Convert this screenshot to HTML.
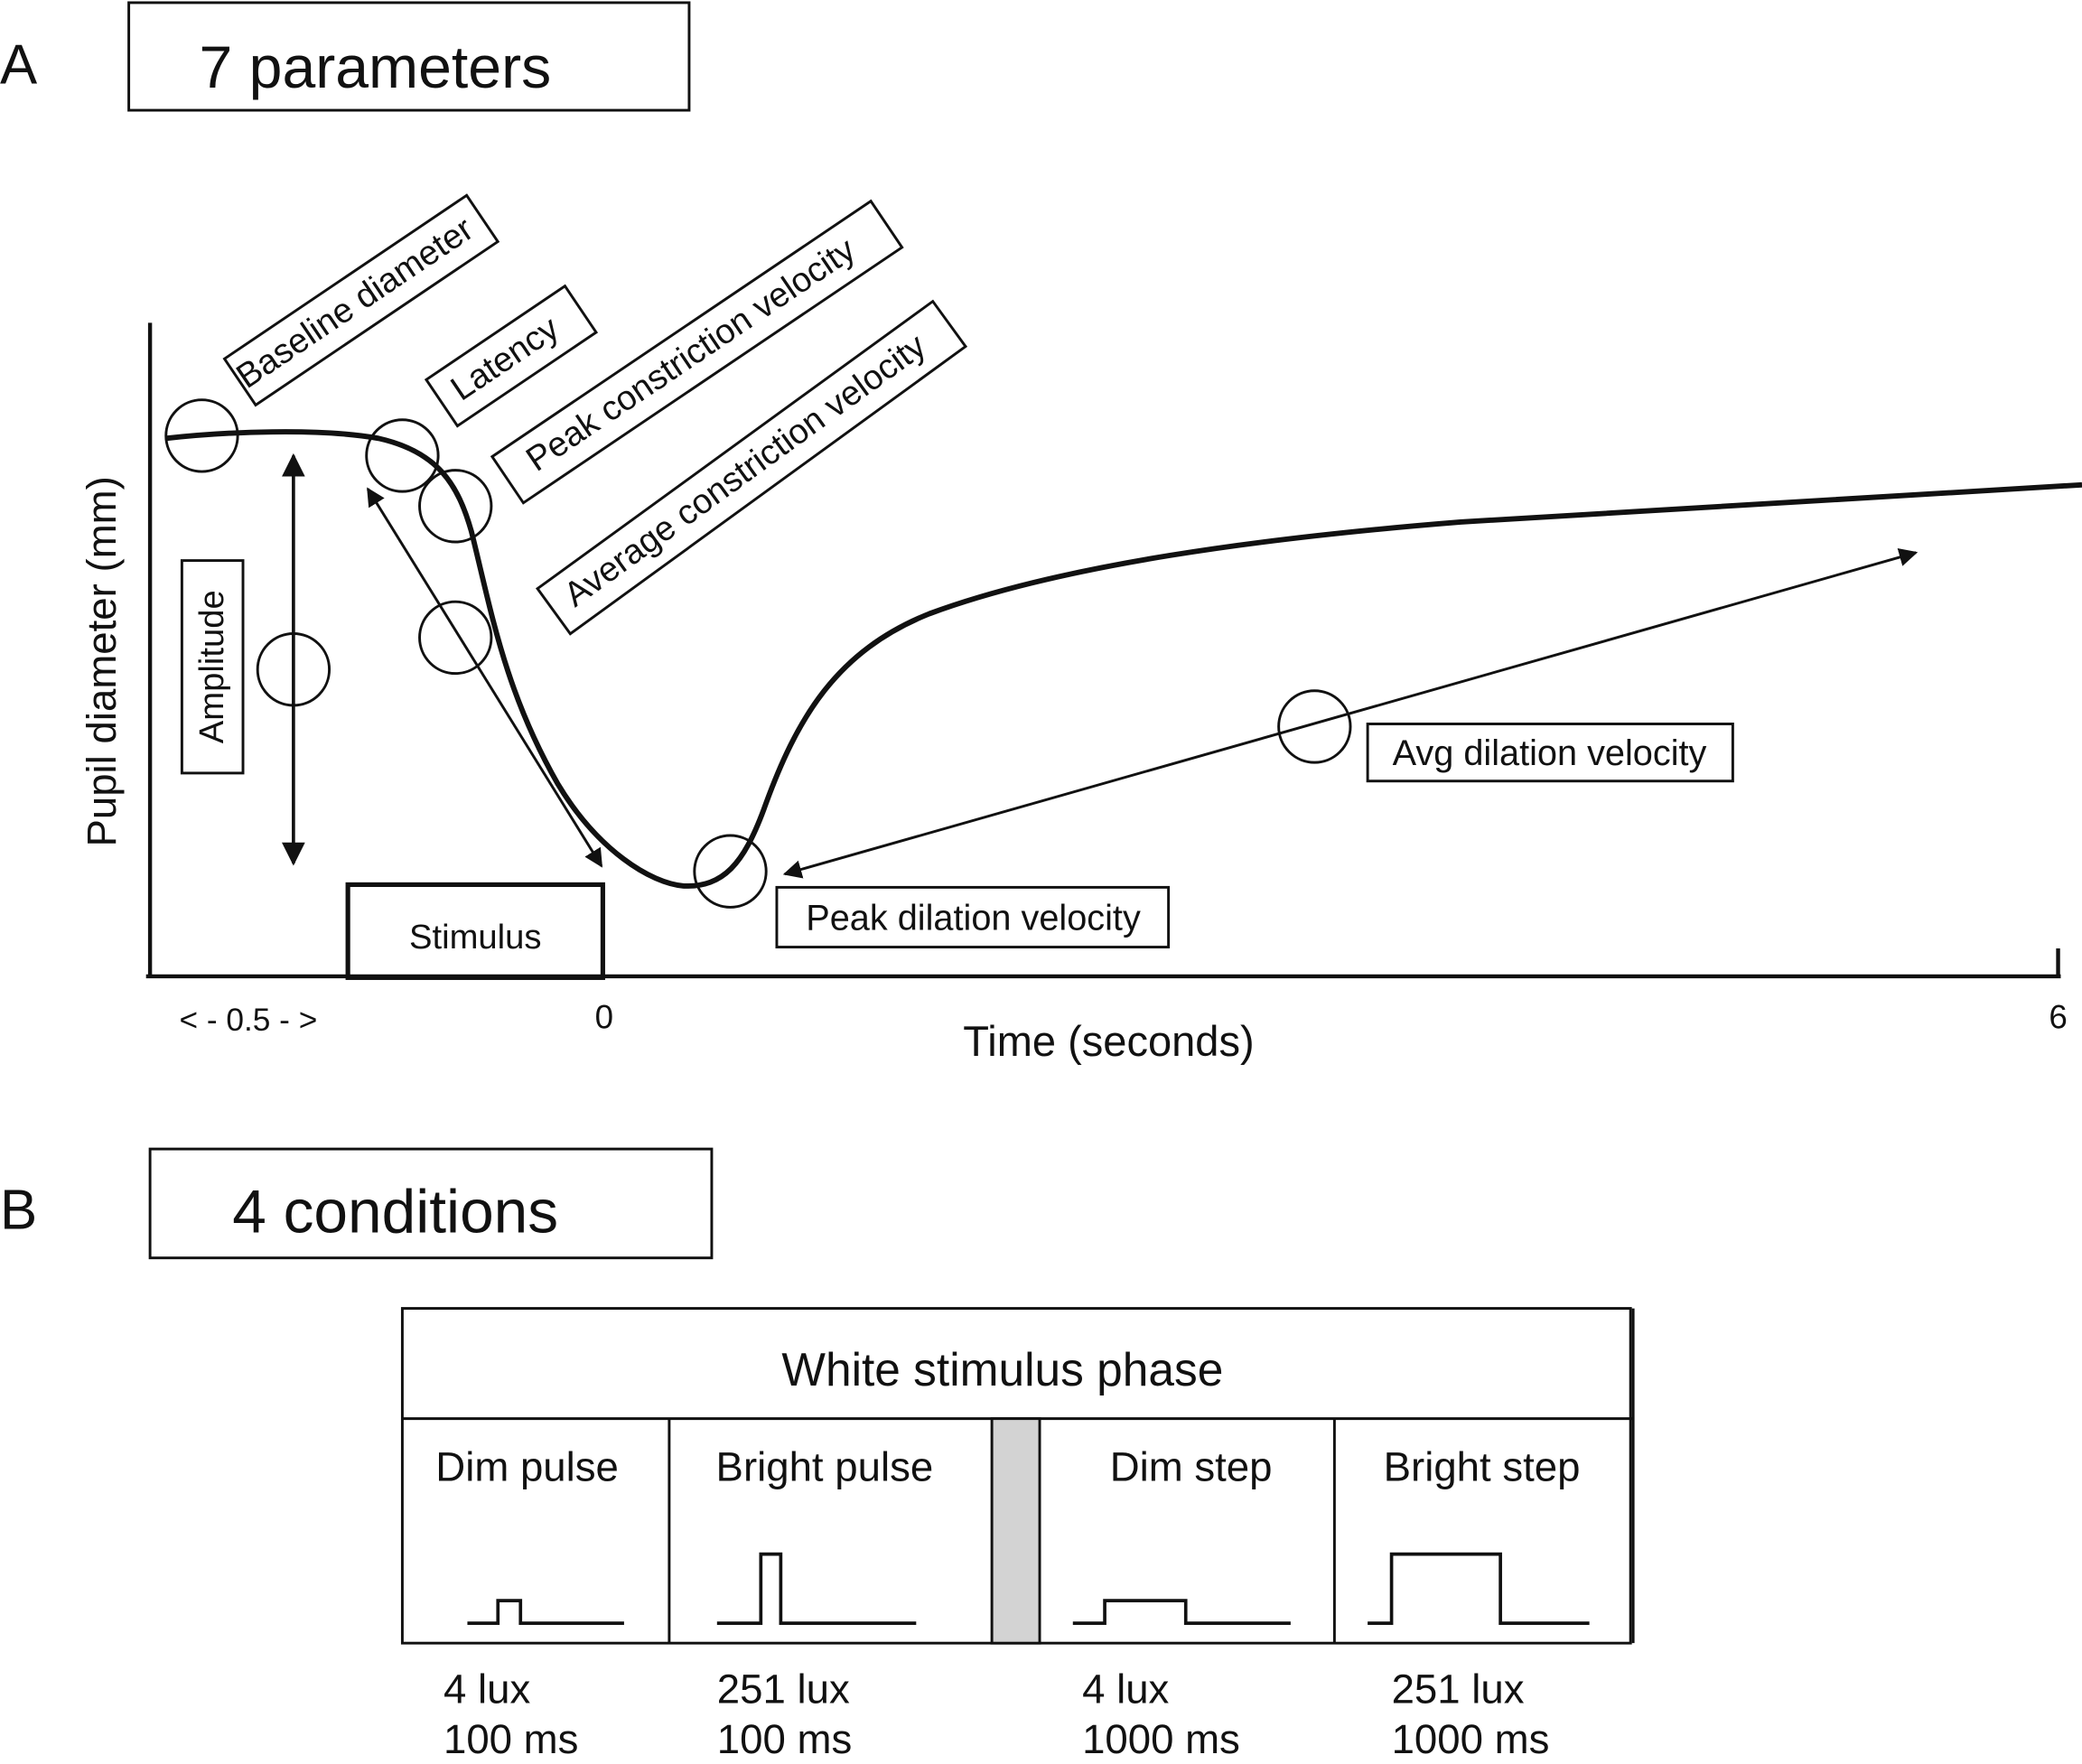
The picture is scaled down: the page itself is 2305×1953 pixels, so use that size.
<!DOCTYPE html>
<html><head><meta charset="utf-8"><style>
html,body{margin:0;padding:0;background:#fff;}
svg{display:block;}
text{font-family:"Liberation Sans",Arial,sans-serif;fill:#111;}
</style></head><body>
<svg width="2305" height="1953" viewBox="0 0 1568 1328" preserveAspectRatio="none" xmlns="http://www.w3.org/2000/svg">
<defs>
<marker id="ah" viewBox="0 0 10 10" refX="9" refY="5" markerWidth="7" markerHeight="7" orient="auto-start-reverse">
<path d="M0,0 L10,5 L0,10 z" fill="#111"/></marker>
</defs>
<g stroke="#111" fill="none">
<rect x="97" y="2" width="422" height="81" stroke-width="2"/>
<line x1="113" y1="243" x2="113" y2="736" stroke-width="3"/>
<line x1="110" y1="735" x2="1552" y2="735" stroke-width="3"/>
<line x1="1550" y1="714" x2="1550" y2="736" stroke-width="3"/>
<path d="M125,330 C170,325 240,322 285,330 C330,340 345,365 355,400 C370,460 380,520 420,590 C450,640 490,665 515,667 C545,668 560,650 575,610 C600,540 630,490 700,462 C800,425 950,405 1100,393 C1300,380 1450,372 1568,365" stroke-width="4"/>
<circle cx="152" cy="328" r="27" stroke-width="2"/>
<circle cx="303" cy="343" r="27" stroke-width="2"/>
<circle cx="343" cy="381" r="27" stroke-width="2"/>
<circle cx="343" cy="480" r="27" stroke-width="2"/>
<circle cx="221" cy="504" r="27" stroke-width="2"/>
<circle cx="550" cy="656" r="27" stroke-width="2"/>
<circle cx="990" cy="547" r="27" stroke-width="2"/>
<line x1="221" y1="343" x2="221" y2="650" stroke-width="2.5" marker-start="url(#ah)" marker-end="url(#ah)"/>
<line x1="277" y1="368" x2="453" y2="652" stroke-width="2" marker-start="url(#ah)" marker-end="url(#ah)"/>
<line x1="591" y1="658" x2="1443" y2="416" stroke-width="2" marker-start="url(#ah)" marker-end="url(#ah)"/>
<rect x="262" y="666" width="192" height="70" stroke-width="3.5"/>
<rect x="137" y="422" width="46" height="160" stroke-width="2"/>
<rect x="1030" y="545" width="275" height="43" stroke-width="2"/>
<rect x="585" y="668" width="295" height="45" stroke-width="2"/>
<g transform="translate(272,226) rotate(-34)"><rect x="-110" y="-21" width="220" height="42" stroke-width="2"/></g>
<g transform="translate(385,268) rotate(-34)"><rect x="-63" y="-21" width="126" height="42" stroke-width="2"/></g>
<g transform="translate(525,265) rotate(-34)"><rect x="-172" y="-21" width="344" height="42" stroke-width="2"/></g>
<g transform="translate(566,352) rotate(-36)"><rect x="-184" y="-21" width="368" height="42" stroke-width="2"/></g>
<rect x="113" y="865" width="423" height="82" stroke-width="2"/>
<rect x="303" y="985" width="925" height="252" stroke-width="2"/>
<line x1="1230" y1="985" x2="1230" y2="1237" stroke-width="2"/>
<line x1="303" y1="1068" x2="1230" y2="1068" stroke-width="2"/>
<line x1="504" y1="1068" x2="504" y2="1237" stroke-width="2"/>
<rect x="747" y="1068" width="36" height="169" fill="#d3d3d3" stroke-width="2"/>
<line x1="1005" y1="1068" x2="1005" y2="1237" stroke-width="2"/>
<polyline points="352,1222 375,1222 375,1205 392,1205 392,1222 470,1222" stroke-width="2.5"/>
<polyline points="540,1222 573,1222 573,1170 588,1170 588,1222 690,1222" stroke-width="2.5"/>
<polyline points="808,1222 832,1222 832,1205 893,1205 893,1222 972,1222" stroke-width="2.5"/>
<polyline points="1030,1222 1048,1222 1048,1170 1130,1170 1130,1222 1197,1222" stroke-width="2.5"/>
</g>
<text x="0" y="63" font-size="42">A</text>
<text x="150" y="66" font-size="45">7 parameters</text>
<text x="358" y="714" font-size="26" text-anchor="middle">Stimulus</text>
<text transform="translate(168,502) rotate(-90)" font-size="26" text-anchor="middle">Amplitude</text>
<text transform="translate(87,498) rotate(-90)" font-size="31" text-anchor="middle">Pupil diameter (mm)</text>
<text x="1167" y="576" font-size="27" text-anchor="middle">Avg dilation velocity</text>
<text x="733" y="700" font-size="27" text-anchor="middle">Peak dilation velocity</text>
<text transform="translate(272,235) rotate(-34)" font-size="26" text-anchor="middle">Baseline diameter</text>
<text transform="translate(385,277) rotate(-34)" font-size="26" text-anchor="middle">Latency</text>
<text transform="translate(525,274) rotate(-34)" font-size="26" text-anchor="middle">Peak constriction velocity</text>
<text transform="translate(566,361) rotate(-36)" font-size="26" text-anchor="middle">Average constriction velocity</text>
<text x="187" y="776" font-size="24" text-anchor="middle">&lt; - 0.5 - &gt;</text>
<text x="455" y="774" font-size="25" text-anchor="middle">0</text>
<text x="1550" y="774" font-size="25" text-anchor="middle">6</text>
<text x="835" y="795" font-size="32" text-anchor="middle">Time (seconds)</text>
<text x="0" y="925" font-size="42">B</text>
<text x="175" y="928" font-size="46">4 conditions</text>
<text x="755" y="1043" font-size="35" text-anchor="middle">White stimulus phase</text>
<text x="397" y="1115" font-size="31" text-anchor="middle">Dim pulse</text>
<text x="621" y="1115" font-size="31" text-anchor="middle">Bright pulse</text>
<text x="897" y="1115" font-size="31" text-anchor="middle">Dim step</text>
<text x="1116" y="1115" font-size="31" text-anchor="middle">Bright step</text>
<g font-size="31">
<text x="334" y="1282">4 lux</text><text x="334" y="1320">100 ms</text>
<text x="540" y="1282">251 lux</text><text x="540" y="1320">100 ms</text>
<text x="815" y="1282">4 lux</text><text x="815" y="1320">1000 ms</text>
<text x="1048" y="1282">251 lux</text><text x="1048" y="1320">1000 ms</text>
</g>
</svg>
</body></html>
